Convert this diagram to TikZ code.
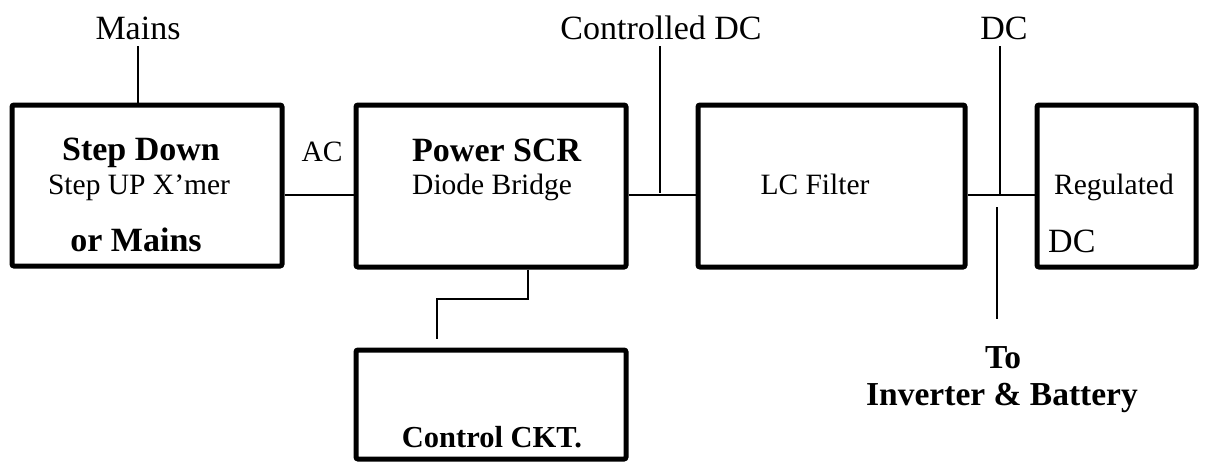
\documentclass[tikz,border=0pt]{standalone}
\usepackage{fontspec}
\setmainfont{Liberation Serif}
\usepackage{tikz}
\usetikzlibrary{positioning,calc}
\newcommand{\bigtxt}{\fontsize{34}{40}\selectfont}
\newcommand{\smalltxt}{\fontsize{29.5}{35}\selectfont}

\begin{document}
\begin{tikzpicture}[x=1pt,y=-1pt,
  blk/.style={draw, line width=5pt, rounded corners=2pt, inner sep=0pt},
  lbl/.style={inner sep=0pt, anchor=base},
  wire/.style={line width=2pt}]
\useasboundingbox (0,0) rectangle (1209,466);
% blocks
\node[blk, minimum width=270pt, minimum height=161pt] (xfmr) at (147,185.5) {};
\node[blk, minimum width=270pt, minimum height=162pt] (scr) at (491,186) {};
\node[blk, minimum width=267pt, minimum height=162pt] (filt) at (831.5,186) {};
\node[blk, minimum width=159pt, minimum height=162pt] (reg) at (1116.5,186) {};
\node[blk, minimum width=270pt, minimum height=109pt] (ctrl) at (491,404.5) {};
% texts in the blocks
\node[lbl] (xfmrA) at (141,160) {\bigtxt\bfseries Step Down};
\node[lbl] (xfmrB) at (139,194) {\smalltxt Step UP X'mer};
\node[lbl] (xfmrC) at (136,251) {\bigtxt\bfseries or Mains};
\node[lbl, anchor=base west] (scrA) at (412,161) {\bigtxt\bfseries Power SCR};
\node[lbl, anchor=base west] (scrB) at (412,194) {\smalltxt Diode Bridge};
\node[lbl] (filtA) at (815,194) {\smalltxt LC Filter};
\node[lbl] (regA) at (1114,194) {\smalltxt Regulated};
\node[lbl, anchor=base west] (regB) at (1048,252) {\bigtxt DC};
\node[lbl] (ctrlA) at (492,447) {\fontsize{30.5}{36}\selectfont\bfseries Control CKT.};
% outside labels
\node[lbl] (mains) at (138,39) {\bigtxt Mains};
\node[lbl] (ac) at (322,161) {\smalltxt AC};
\node[lbl] (cdc) at (661,39) {\bigtxt Controlled DC};
\node[lbl] (dc) at (1004,39) {\bigtxt DC};
\node[lbl] (to) at (1003,368) {\fontsize{33.5}{40}\selectfont\bfseries To};
\node[lbl] (inv) at (1002,405) {\fontsize{33.5}{40}\selectfont\bfseries Inverter \& Battery};
\coordinate (bus) at (0,195);
\coordinate (tap) at (1000,195);
\coordinate (tapA) at (997,207);
\coordinate (tapB) at (997,319);
% connectors
\draw[wire] (138,46) -- (mains.base |- xfmr.north);
\draw[wire] (xfmr.east |- bus) -- (scr.west |- bus);
\draw[wire] (scr.east |- bus) -- (filt.west |- bus);
\draw[wire] (filt.east |- bus) -- (reg.west |- bus);
\draw[wire] (660,46) -- (660,193);
\draw[wire] (tap |- 0,46) -- ([yshift=1pt]tap);
\draw[wire] (tapA) -- (tapB);
\draw[wire] ([xshift=37pt]scr.south) -- ++(0,29) -| ([xshift=-54pt,yshift=9pt]ctrl.north);
\end{tikzpicture}
\end{document}
